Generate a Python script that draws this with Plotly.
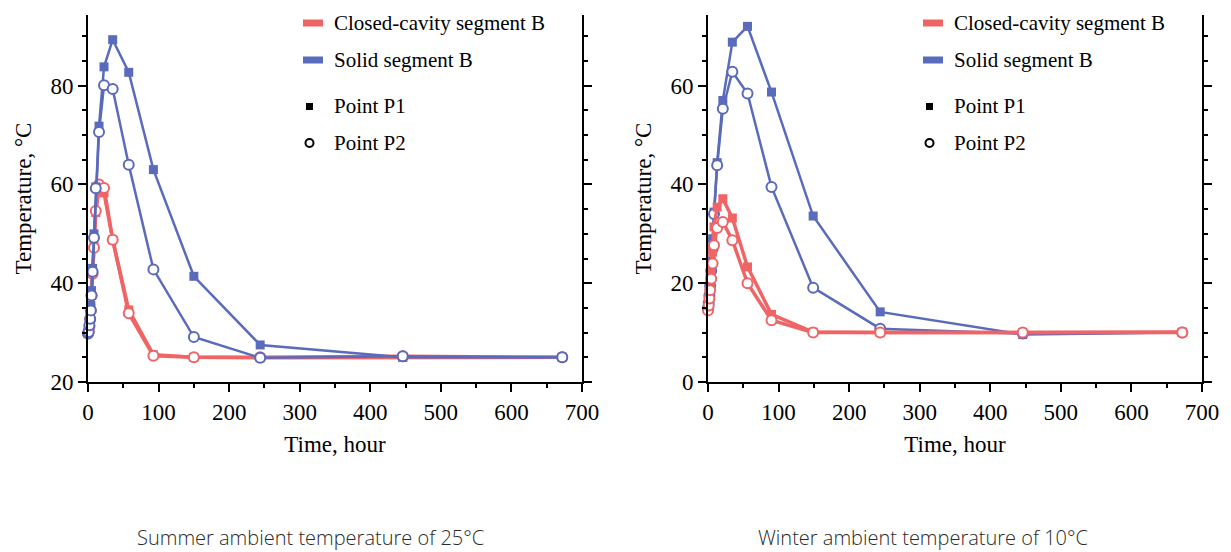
import plotly.graph_objects as go

W, H = 1231, 552

# ---------------- data ----------------
time_summer = [0, 1, 2, 3, 4, 5, 6.5, 8.5, 11, 15.6, 22.7, 35, 57.7, 92.7, 150, 244, 446, 672]
summer_closed_p1 = [30, 30.5, 31.5, 33, 35, 38, 42, 47.5, 54.3, 59.5, 58.3, 48.8, 34.6, 25.5, 25.0, 24.9, 25.0, 25.0]
summer_closed_p2 = [29.8, 30.2, 31.2, 32.6, 34.5, 37.5, 41.9, 47.2, 54.6, 60.0, 59.3, 48.8, 33.9, 25.3, 25.0, 25.0, 25.2, 25.0]
summer_solid_p1 = [30, 30.5, 32, 33.5, 35.5, 38.5, 43, 50, 59.5, 71.8, 83.8, 89.3, 82.7, 63.0, 41.4, 27.5, 25.0, 25.0]
summer_solid_p2 = [29.8, 30.1, 31.5, 32.8, 34.5, 37.5, 42.3, 49.2, 59.2, 70.6, 80.1, 79.3, 64.0, 42.8, 29.1, 24.9, 25.2, 25.0]

time_winter = [0, 1, 2, 3, 4.5, 6.5, 8.5, 13, 21, 34.5, 56, 90, 149, 244, 446, 672]
winter_closed_p1 = [15, 16, 17.5, 19.5, 22.6, 26.3, 31.4, 35.4, 37.1, 33.2, 23.3, 13.7, 10.1, 10.0, 10.0, 10.1]
winter_closed_p2 = [14.5, 15.5, 16.9, 18.6, 20.9, 24.0, 27.7, 31.2, 32.4, 28.7, 20.0, 12.5, 10.0, 10.0, 10.0, 10.0]
winter_solid_p1 = [15, 16.5, 18.5, 21, 24.5, 29, 34.4, 44.4, 57.0, 68.8, 72.0, 58.7, 33.6, 14.2, 9.6, 10.0]
winter_solid_p2 = [15, 16, 17.5, 19.5, 22.5, 27, 34, 43.9, 55.3, 62.8, 58.4, 39.5, 19.1, 10.8, 9.8, 10.0]

series_names = ["Closed-cavity segment B", "Solid segment B"]
point_names = ["Point P1", "Point P2"]
captions = ["Summer ambient temperature of 25°C", "Winter ambient temperature of 10°C"]

RED = "#EF6566"
BLUE = "#5A6BBB"
SERIF = "Liberation Serif"


def pxx(x):
    return x / W


def pxy(y):
    return 1 - y / H


fig = go.Figure()


def add_series(t, vals, color, lw, square, xa, ya):
    if square:
        marker = dict(symbol="square", size=9, color=color, line=dict(width=0))
    else:
        marker = dict(symbol="circle", size=10, color="white", line=dict(color=color, width=2))
    fig.add_trace(go.Scatter(x=t, y=vals, mode="lines+markers", line=dict(color=color, width=lw),
                             marker=marker, showlegend=False, xaxis=xa, yaxis=ya, cliponaxis=False))


# summer: red first, blue on top
add_series(time_summer, summer_closed_p1, RED, 3.5, True, "x", "y")
add_series(time_summer, summer_closed_p2, RED, 3.5, False, "x", "y")
add_series(time_summer, summer_solid_p1, BLUE, 2.5, True, "x", "y")
add_series(time_summer, summer_solid_p2, BLUE, 2.5, False, "x", "y")
# winter: blue first, red on top
add_series(time_winter, winter_solid_p1, BLUE, 2.5, True, "x2", "y2")
add_series(time_winter, winter_solid_p2, BLUE, 2.5, False, "x2", "y2")
add_series(time_winter, winter_closed_p1, RED, 3.5, True, "x2", "y2")
add_series(time_winter, winter_closed_p2, RED, 3.5, False, "x2", "y2")

axis_common = dict(showline=True, linecolor="black", linewidth=2, ticks="outside", ticklen=8,
                   tickwidth=1.5, tickcolor="black", showgrid=False, zeroline=False, automargin=False,
                   tickfont=dict(family=SERIF, size=23, color="black"))

xdef = dict(axis_common, range=[0, 700], dtick=100, tick0=0,
            minor=dict(ticks="outside", ticklen=4, tickwidth=1.5, tickcolor="black", dtick=50),
            title=dict(text="Time, hour", font=dict(family=SERIF, size=23, color="black"), standoff=12))


def ydef(lo, hi, t0):
    return dict(axis_common, range=[lo, hi], dtick=20, tick0=t0, mirror="ticks",
                minor=dict(ticks="outside", ticklen=4, tickwidth=1.5, tickcolor="black", dtick=5),
                title=dict(text="Temperature, °C", font=dict(family=SERIF, size=23, color="black"), standoff=12))


yt, yb = 15, 382
fig.update_layout(
    template="none",
    width=W, height=H, margin=dict(l=0, r=0, t=0, b=0, autoexpand=False),
    paper_bgcolor="white", plot_bgcolor="white", showlegend=False,
    xaxis=dict(xdef, domain=[pxx(88), pxx(582)], anchor="y"),
    yaxis=dict(ydef(20, 94.3, 20), domain=[pxy(yb), pxy(yt)], anchor="x"),
    xaxis2=dict(xdef, domain=[pxx(708), pxx(1202)], anchor="y2"),
    yaxis2=dict(ydef(0, 74.3, 0), domain=[pxy(yb), pxy(yt)], anchor="x2"),
)

shapes = []
annotations = []
for off in (0, 620):
    # colour swatches
    for i, (c, yc) in enumerate([(RED, 23), (BLUE, 60)]):
        shapes.append(dict(type="rect", xref="paper", yref="paper",
                           x0=pxx(303 + off), x1=pxx(323 + off), y0=pxy(yc - 3.5), y1=pxy(yc + 3.5),
                           fillcolor=c, line=dict(width=0)))
        annotations.append(dict(text=series_names[i], xref="paper", yref="paper", x=pxx(332 + off),
                                y=pxy(yc), xanchor="left", yanchor="middle", showarrow=False,
                                font=dict(family=SERIF, size=21, color="black")))
    # point markers
    shapes.append(dict(type="rect", xref="paper", yref="paper",
                       x0=pxx(306 + off), x1=pxx(313 + off), y0=pxy(110), y1=pxy(103),
                       fillcolor="black", line=dict(width=0)))
    shapes.append(dict(type="circle", xref="paper", yref="paper",
                       x0=pxx(305.5 + off), x1=pxx(313.5 + off), y0=pxy(147), y1=pxy(139),
                       fillcolor="white", line=dict(color="black", width=2)))
    for j, yc in enumerate([106, 143]):
        annotations.append(dict(text=point_names[j], xref="paper", yref="paper", x=pxx(332 + off),
                                y=pxy(yc), xanchor="left", yanchor="middle", showarrow=False,
                                font=dict(family=SERIF, size=21, color="black")))

for k, xc in enumerate([310, 923]):
    annotations.append(dict(text=captions[k], xref="paper", yref="paper", x=pxx(xc), y=pxy(537),
                            xanchor="center", yanchor="middle", showarrow=False,
                            font=dict(family="Open Sans", size=20, color="#2a2a2a", weight=300)))

fig.update_layout(shapes=shapes, annotations=annotations)
fig.write_html("out.html", config={"displayModeBar": False},
               post_script="document.body.style.margin='0';")
